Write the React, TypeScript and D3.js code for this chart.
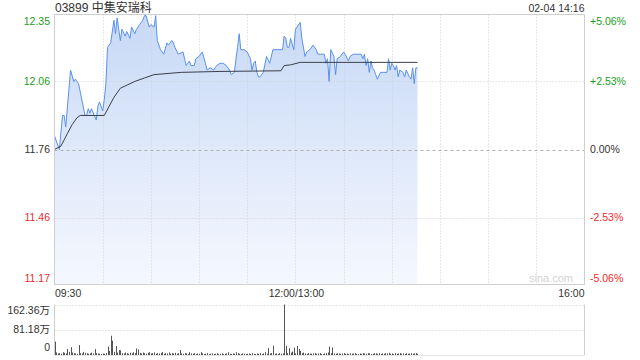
import React from 'react';
import * as d3 from 'd3';

const TITLE = '03899 中集安瑞科';
const STAMP = '02-04 14:16';
const PREV_CLOSE = 11.76;
const PRICE_LOW = 11.165;
const PRICE_HIGH = 12.355;
const PRICE_TICKS = [12.35, 12.06, 11.76, 11.46, 11.17];
const PRICE_TICK_LABELS = ['12.35', '12.06', '11.76', '11.46', '11.17'];
const PCT_LABELS = ['+5.06%', '+2.53%', '0.00%', '-2.53%', '-5.06%'];
const TIME_TICKS = [0, 150, 330];
const TIME_LABELS = ['09:30', '12:00/13:00', '16:00'];
const VOL_MAX = 162.36;
const VOL_TICKS = [162.36, 81.18, 0];
const VOL_LABELS = ['162.36万', '81.18万', '0'];

// trading minute index since 09:30 (12:00 and 13:00 share index 150)
const PRICE_MIN = [
  0, 3, 5, 6, 7, 10, 12, 13, 15, 17, 19, 20, 21, 22, 23, 26, 27, 28, 30, 31,
  32, 33, 35, 37, 38, 39, 41, 42, 44, 45, 47, 48, 50, 51, 53, 55, 56, 57, 59, 60,
  62, 63, 64, 66, 67, 68, 70, 71, 73, 74, 75, 77, 80, 81, 82, 84, 85, 87, 88, 90,
  92, 94, 95, 97, 99, 101, 103, 105, 107, 109, 110, 112, 113, 114, 115, 116, 118, 120, 122, 123,
  124, 125, 126, 127, 128, 130, 132, 134, 136, 139, 142, 143, 144, 145, 146, 147, 149, 150, 151, 153,
  154, 156, 157, 159, 161, 163, 164, 166, 168, 169, 170, 171, 172, 174, 175, 176, 178, 180, 181, 183,
  184, 186, 191, 192, 193, 194, 195, 196, 197, 198, 199, 200, 201, 203, 205, 207, 208, 209, 210, 211,
  212, 213, 214, 215, 217, 218, 219, 221, 222, 223, 224, 225, 226,
];
const PRICE = [
  11.82, 11.76, 11.91, 11.91, 11.86, 12.11, 12.06, 12.07, 12.05, 11.98, 11.91, 11.91, 11.94, 11.92, 11.94, 11.89, 11.95, 11.97, 11.93, 11.98,
  12.05, 12.21, 12.23, 12.33, 12.27, 12.34, 12.24, 12.29, 12.26, 12.28, 12.25, 12.30, 12.27, 12.29, 12.31, 12.33, 12.35, 12.35, 12.30, 12.31,
  12.30, 12.35, 12.24, 12.20, 12.19, 12.18, 12.23, 12.22, 12.24, 12.23, 12.21, 12.18, 12.19, 12.16, 12.13, 12.15, 12.13, 12.13, 12.16, 12.17,
  12.19, 12.14, 12.11, 12.12, 12.11, 12.13, 12.14, 12.14, 12.13, 12.11, 12.09, 12.10, 12.16, 12.21, 12.27, 12.20, 12.20, 12.19, 12.16, 12.11,
  12.14, 12.15, 12.10, 12.08, 12.08, 12.10, 12.17, 12.14, 12.20, 12.20, 12.20, 12.26, 12.25, 12.21, 12.21, 12.25, 12.20, 12.29, 12.30, 12.32,
  12.25, 12.17, 12.19, 12.20, 12.22, 12.20, 12.18, 12.18, 12.18, 12.14, 12.16, 12.06, 12.20, 12.17, 12.09, 12.16, 12.17, 12.19, 12.18, 12.15,
  12.17, 12.18, 12.18, 12.16, 12.18, 12.13, 12.16, 12.10, 12.15, 12.12, 12.11, 12.09, 12.07, 12.10, 12.10, 12.10, 12.16, 12.11, 12.14, 12.13,
  12.11, 12.13, 12.08, 12.11, 12.10, 12.08, 12.11, 12.08, 12.07, 12.12, 12.05, 12.12, 12.12,
];

const AVG_MIN = [0, 4, 8, 11, 14, 16, 31, 34, 37, 41, 47, 50, 56, 62, 79, 103, 141, 143, 147, 153, 226];
const AVG = [11.76, 11.775, 11.83, 11.87, 11.9, 11.91, 11.91, 11.95, 11.99, 12.03, 12.05, 12.06, 12.075, 12.09, 12.1, 12.104, 12.107, 12.13, 12.133, 12.144, 12.144];

// volume per minute, 万
const VOLUME = [
  43, 8, 5, 6, 4, 9, 7, 5, 19, 10,
  25, 8, 6, 5, 4, 32, 6, 5, 10, 7,
  6, 4, 5, 8, 5, 19, 6, 5, 4, 3,
  5, 4, 6, 27, 13, 62, 46, 10, 29, 8,
  16, 15, 6, 5, 8, 6, 4, 7, 5, 9,
  6, 21, 18, 7, 5, 8, 6, 4, 7, 9,
  5, 6, 8, 4, 6, 5, 7, 9, 4, 6,
  5, 8, 4, 6, 5, 7, 4, 6, 16, 5,
  4, 6, 5, 3, 9, 5, 4, 6, 3, 5,
  4, 9, 5, 3, 4, 6, 3, 4, 5, 3,
  4, 6, 3, 4, 5, 3, 4, 5, 9, 4,
  3, 5, 4, 9, 6, 4, 3, 5, 4, 3,
  4, 5, 3, 6, 4, 3, 5, 4, 6, 3,
  5, 9, 4, 22, 5, 6, 30, 4, 5, 3,
  6, 4, 5, 162.36, 29, 6, 22, 8, 11, 24,
  5, 29, 19, 13, 6, 8, 5, 4, 6, 5,
  4, 5, 6, 4, 5, 6, 4, 3, 5, 6,
  8, 27, 6, 24, 5, 4, 6, 5, 4, 5,
  6, 4, 5, 3, 6, 4, 5, 6, 4, 3,
  5, 4, 6, 5, 4, 6, 5, 3, 4, 6,
  5, 4, 6, 3, 5, 4, 6, 5, 7, 4,
  5, 3, 6, 4, 5, 6, 4, 5, 3, 6,
  4, 5, 6, 4, 5, 6, 4,
];

const W = 640;
const H = 360;
const L = 54.5;
const R = 584.5;
const PT = 14.5;
const PB = 284.5;
const VT = 304.5;
const VB = 355;

const FONT = '"Liberation Sans", Arial, "Noto Sans CJK SC", sans-serif';
const UP = '#1a9e1a';
const DOWN = '#ee2b2b';
const NEUTRAL = '#333';

export default function App() {
  const x = d3.scaleLinear().domain([0, 330]).range([L, R]);
  const y = d3.scaleLinear().domain([PRICE_LOW, PRICE_HIGH]).range([PB, PT]);
  const yv = d3.scaleLinear().domain([0, VOL_MAX]).range([VB, VT]);

  const pts = PRICE_MIN.map((m, i) => [m, PRICE[i]] as [number, number]);
  const line = d3.line<[number, number]>().x((d) => x(d[0])).y((d) => y(d[1]));
  const area = d3
    .area<[number, number]>()
    .x((d) => x(d[0]))
    .y0(PB)
    .y1((d) => y(d[1]));
  const avgPts = AVG_MIN.map((m, i) => [m, AVG[i]] as [number, number]);

  const gridX = d3.range(1, 11).map((i) => Math.round(x(i * 30)) + 0.5);

  const labelColor = (v: number) => (v > PREV_CLOSE + 1e-9 ? UP : v < PREV_CLOSE - 1e-9 ? DOWN : NEUTRAL);
  const clampY = (v: number) => Math.max(21, Math.min(278, v));

  return (
    <svg
      width={W}
      height={H}
      style={{ position: 'absolute', left: 0, top: 0, background: '#fff' }}
      fontFamily={FONT}
    >
      <defs>
        <linearGradient id="fillg" gradientUnits="userSpaceOnUse" x1="0" y1={PT} x2="0" y2={PB}>
          <stop offset="0" stopColor="#c7d9f6" />
          <stop offset="1" stopColor="#f5f8fe" />
        </linearGradient>
      </defs>

      {/* title + stamp */}
      <text x={55} y={12} fontSize={12} fill="#333">
        {TITLE}
      </text>
      <text x={R} y={12} fontSize={10.5} fill="#333" textAnchor="end">
        {STAMP}
      </text>

      {/* area fill */}
      <path d={area(pts) || ''} fill="url(#fillg)" />

      {/* grid */}
      {gridX.map((gx, i) => (
        <line key={'gx' + i} x1={gx} x2={gx} y1={PT} y2={PB} stroke="#d0d0d0" strokeDasharray="1,2" />
      ))}
      {PRICE_TICKS.map((t, i) =>
        i === 0 || i === 4 ? null : (
          <line
            key={'gy' + i}
            x1={L}
            x2={R}
            y1={Math.round(y(t)) + 0.5}
            y2={Math.round(y(t)) + 0.5}
            stroke={i === 2 ? '#b0b0b0' : '#d0d0d0'}
            strokeDasharray={i === 2 ? '3,3' : '1,2'}
          />
        )
      )}

      {/* lines */}
      <path d={line(pts) || ''} fill="none" stroke="#5a91e8" strokeWidth={1} />
      <path d={line(avgPts) || ''} fill="none" stroke="#3a3e48" strokeWidth={1} />

      {/* frame */}
      <rect x={L} y={PT} width={R - L} height={PB - PT} fill="none" stroke="#cfcfcf" />

      {/* watermark */}
      <text x={573} y={282} fontSize={11} fill="#d4d4d4" textAnchor="end">
        sina.com
      </text>

      {/* price axis labels */}
      {PRICE_TICKS.map((t, i) => (
        <text
          key={'pl' + i}
          x={50}
          y={clampY(y(t))}
          dy="0.35em"
          fontSize={10.5}
          textAnchor="end"
          fill={labelColor(t)}
        >
          {PRICE_TICK_LABELS[i]}
        </text>
      ))}
      {PRICE_TICKS.map((t, i) => (
        <text key={'pr' + i} x={590} y={clampY(y(t))} dy="0.35em" fontSize={10.5} fill={labelColor(t)}>
          {PCT_LABELS[i]}
        </text>
      ))}

      {/* time labels */}
      {TIME_TICKS.map((m, i) => (
        <text
          key={'t' + i}
          x={i === 0 ? 55 : i === 2 ? R : x(m) + 1}
          y={293}
          dy="0.35em"
          fontSize={10.5}
          fill="#333"
          textAnchor={i === 0 ? 'start' : i === 2 ? 'end' : 'middle'}
        >
          {TIME_LABELS[i]}
        </text>
      ))}

      {/* volume panel */}
      {VOL_TICKS.slice(0, 2).map((v, i) => (
        <line
          key={'vg' + i}
          x1={L}
          x2={R}
          y1={Math.round(yv(v)) + 0.5}
          y2={Math.round(yv(v)) + 0.5}
          stroke="#cfcfcf"
          strokeDasharray="1,2"
        />
      ))}
      {VOLUME.map((v, i) => (
        <rect key={'vb' + i} x={Math.round(x(i))} y={yv(v)} width={1} height={VB - yv(v)} fill="#555" />
      ))}
      <line x1={L} x2={L} y1={VT} y2={VB} stroke="#cfcfcf" />
      <line x1={R} x2={R} y1={VT} y2={VB} stroke="#cfcfcf" />
      <line x1={L} x2={R} y1={VB + 0.5} y2={VB + 0.5} stroke="#e6e6e6" />
      {VOL_TICKS.map((v, i) => (
        <text
          key={'vl' + i}
          x={50}
          y={i === 0 ? 310.5 : i === 1 ? 329.5 : 347.5}
          dy="0.35em"
          fontSize={10.5}
          textAnchor="end"
          fill="#333"
        >
          {VOL_LABELS[i]}
        </text>
      ))}
    </svg>
  );
}
